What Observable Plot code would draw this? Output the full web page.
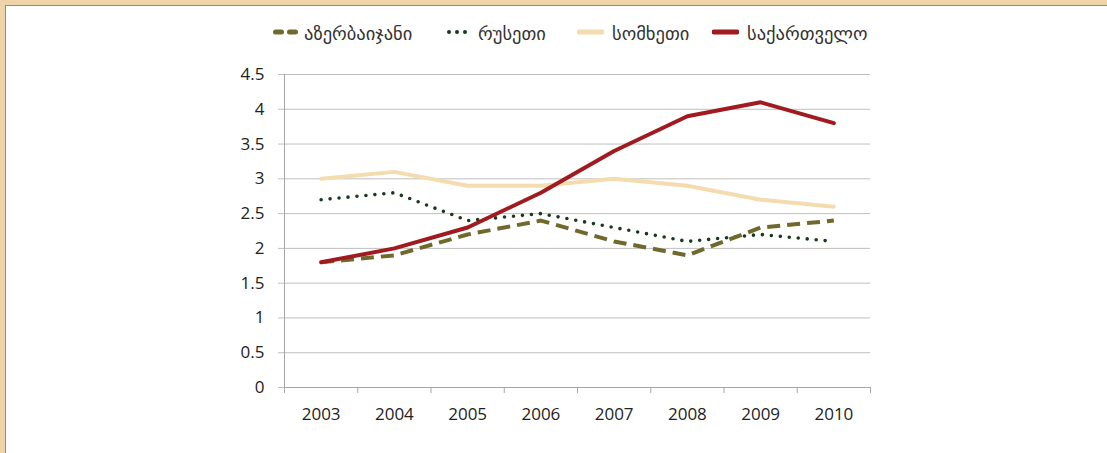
<!DOCTYPE html>
<html>
<head>
<meta charset="utf-8">
<script src="https://cdn.jsdelivr.net/npm/d3@7"></script>
<script src="https://cdn.jsdelivr.net/npm/@observablehq/plot@0.6"></script>
<style>
  html, body { margin: 0; padding: 0; background: #fff; }
  #frame { width: 1102px; height: 448px; border-top: 5px solid #f0d4a9; border-left: 5px solid #f0d4a9; overflow: hidden; }
  #inner { width: 1101px; height: 447px; border-top: 1px solid #8c8c8c; border-left: 1px solid #8c8c8c; position: relative; background: #fff; }
  #legend { position: relative; height: 44px; font-family: "Noto Sans", "DejaVu Sans", sans-serif; font-size: 18.5px; color: #333; }
  .item { position: absolute; top: 0; height: 52px; display: flex; align-items: center; }
  .item svg { margin-right: 6px; }
  #chart svg { display: block; }
</style>
</head>
<body>
<div id="frame"><div id="inner">
  <div id="legend"></div>
  <div id="chart"></div>
</div></div>
<script>
const years = [2003, 2004, 2005, 2006, 2007, 2008, 2009, 2010];
const azerbaijan = [1.8, 1.9, 2.2, 2.4, 2.1, 1.9, 2.3, 2.4];
const russia     = [2.7, 2.8, 2.4, 2.5, 2.3, 2.1, 2.2, 2.1];
const armenia    = [3.0, 3.1, 2.9, 2.9, 3.0, 2.9, 2.7, 2.6];
const georgia    = [1.8, 2.0, 2.3, 2.8, 3.4, 3.9, 4.1, 3.8];
const seriesNames = ["აზერბაიჯანი", "რუსეთი", "სომხეთი", "საქართველო"];
const yTicks = [0, 0.5, 1, 1.5, 2, 2.5, 3, 3.5, 4, 4.5];

const colors = ["#6f6a2c", "#163a1b", "#f5dcae", "#a01b1f"];
const dashes = ["13,7", "0,9", null, null];
const widths = [4, 3.6, 4, 4];
const caps = ["butt", "round", "round", "round"];

const values = [azerbaijan, russia, armenia, georgia];
const table = values.map((vals, i) => years.map((yr, j) => ({year: yr, value: vals[j], series: seriesNames[i]})));
const boundaries = [years[0] - 0.5, ...years.map(y => y + 0.5)];

// Legend
const legendLeft = [267, 441, 571, 706];
const legend = document.getElementById("legend");
seriesNames.forEach((name, i) => {
  const item = document.createElement("div");
  item.className = "item";
  item.style.left = legendLeft[i] + "px";
  const sw = i === 2 || i === 3 ? 27 : 25;
  let swatch;
  if (i === 0) swatch = `<svg width="${sw}" height="10"><line x1="2.5" x2="23" y1="5" y2="5" stroke="${colors[0]}" stroke-width="5" stroke-dasharray="6,8" stroke-linecap="round"/></svg>`;
  else if (i === 1) swatch = `<svg width="${sw}" height="10"><line x1="2" x2="22" y1="5" y2="5" stroke="${colors[1]}" stroke-width="4" stroke-dasharray="0,8" stroke-linecap="round"/></svg>`;
  else swatch = `<svg width="${sw}" height="10"><line x1="2" x2="${sw - 2}" y1="5" y2="5" stroke="${colors[i]}" stroke-width="5" stroke-linecap="round"/></svg>`;
  item.innerHTML = swatch + `<span>${name}</span>`;
  if (i >= 2) item.querySelector("svg").style.marginRight = "8px";
  legend.appendChild(item);
});

const lineOrder = [2, 1, 0, 3];
const chart = Plot.plot({
  width: 1101,
  height: 403,
  marginTop: 24,
  marginBottom: 66,
  marginLeft: 278,
  marginRight: 237,
  style: {fontFamily: "'Open Sans', 'DejaVu Sans', sans-serif", fontSize: "17px", color: "#222", background: "transparent"},
  x: {type: "linear", domain: [boundaries[0], boundaries[boundaries.length - 1]]},
  y: {domain: [0, 4.5]},
  marks: [
    Plot.gridY(yTicks, {stroke: "#bfbfbf", strokeOpacity: 1, strokeWidth: 1}),
    Plot.axisY({ticks: yTicks, tickSize: 6, tickPadding: 14, tickFormat: d => `${d}`, stroke: "#bfbfbf", strokeOpacity: 1, label: null, fill: "#222"}),
    Plot.axisX({ticks: boundaries, tickSize: 6, tickFormat: () => "", stroke: "#a6a6a6", strokeOpacity: 1, label: null}),
    Plot.axisX({ticks: years, tickSize: 0, tickPadding: 20, tickFormat: d => `${d}`, label: null, fill: "#222"}),
    Plot.ruleY([0], {stroke: "#a6a6a6"}),
    Plot.ruleX([boundaries[0]], {stroke: "#a6a6a6"}),
    ...lineOrder.map(i => Plot.line(table[i], {
      x: "year", y: "value",
      stroke: colors[i], strokeWidth: widths[i],
      strokeDasharray: dashes[i] || undefined,
      strokeLinecap: caps[i], strokeLinejoin: "round"
    }))
  ]
});
document.getElementById("chart").appendChild(chart);
</script>
</body>
</html>
